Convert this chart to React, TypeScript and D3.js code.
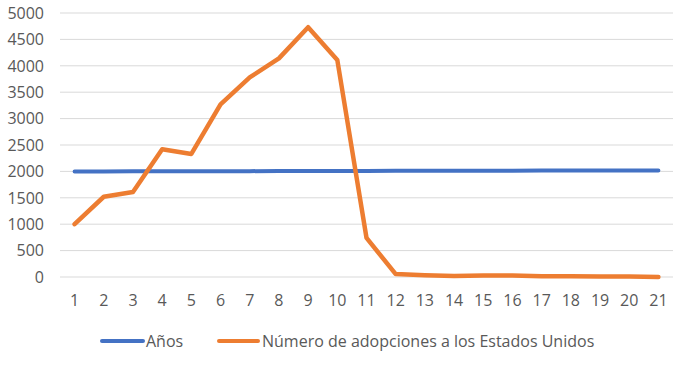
import React, { useMemo } from 'react';
import * as d3 from 'd3';

const categories = ['1', '2', '3', '4', '5', '6', '7', '8', '9', '10', '11', '12', '13', '14', '15', '16', '17', '18', '19', '20', '21'];
const anios = [1999, 2000, 2001, 2002, 2003, 2004, 2005, 2006, 2007, 2008, 2009, 2010, 2011, 2012, 2013, 2014, 2015, 2016, 2017, 2018, 2019];
const adopciones = [1000, 1520, 1610, 2420, 2330, 3270, 3780, 4140, 4730, 4110, 740, 55, 35, 20, 30, 30, 15, 12, 10, 10, 0];
const yTicks = [0, 500, 1000, 1500, 2000, 2500, 3000, 3500, 4000, 4500, 5000];

const WIDTH = 678;
const HEIGHT = 368;
const FONT = '"Open Sans", "Noto Sans", sans-serif';

const App = (): React.ReactElement => {
  const x = useMemo(() => d3.scaleBand<string>().domain(categories).range([60, 673]), []);
  const y = useMemo(() => d3.scaleLinear().domain([0, 5000]).range([277, 13]), []);
  const cx = (c: string) => (x(c) ?? 0) + x.bandwidth() / 2;

  const line = d3
    .line<number>()
    .x((_, i) => cx(categories[i]))
    .y((d) => y(d));

  return (
    <svg
      width={WIDTH}
      height={HEIGHT}
      style={{ position: 'absolute', left: 0, top: 0, background: '#fff' }}
      fontFamily={FONT}
    >
      <g>
        {yTicks.map((t) => (
          <g key={t}>
            <line x1={60} x2={673} y1={y(t)} y2={y(t)} stroke="#d9d9d9" strokeWidth={1} />
            <text x={44} y={y(t)} dy="0.36em" textAnchor="end" fontSize={16} fill="#595959">
              {t}
            </text>
          </g>
        ))}
      </g>
      <g>
        {categories.map((c) => (
          <text key={c} x={cx(c)} y={300} dy="0.36em" textAnchor="middle" fontSize={16} fill="#595959">
            {c}
          </text>
        ))}
      </g>
      <path d={line(anios) ?? ''} fill="none" stroke="#4472C4" strokeWidth={4} strokeLinejoin="round" strokeLinecap="round" />
      <path d={line(adopciones) ?? ''} fill="none" stroke="#ED7D31" strokeWidth={4.5} strokeLinejoin="round" strokeLinecap="round" />
      <g>
        <line x1={102} x2={143} y1={341} y2={341} stroke="#4472C4" strokeWidth={4} strokeLinecap="round" />
        <text x={146} y={341} dy="0.36em" fontSize={16} fill="#595959">Años</text>
        <line x1={219} x2={258} y1={341} y2={341} stroke="#ED7D31" strokeWidth={4} strokeLinecap="round" />
        <text x={262} y={341} dy="0.36em" fontSize={16} fill="#595959">Número de adopciones a los Estados Unidos</text>
      </g>
    </svg>
  );
};

export default App;
